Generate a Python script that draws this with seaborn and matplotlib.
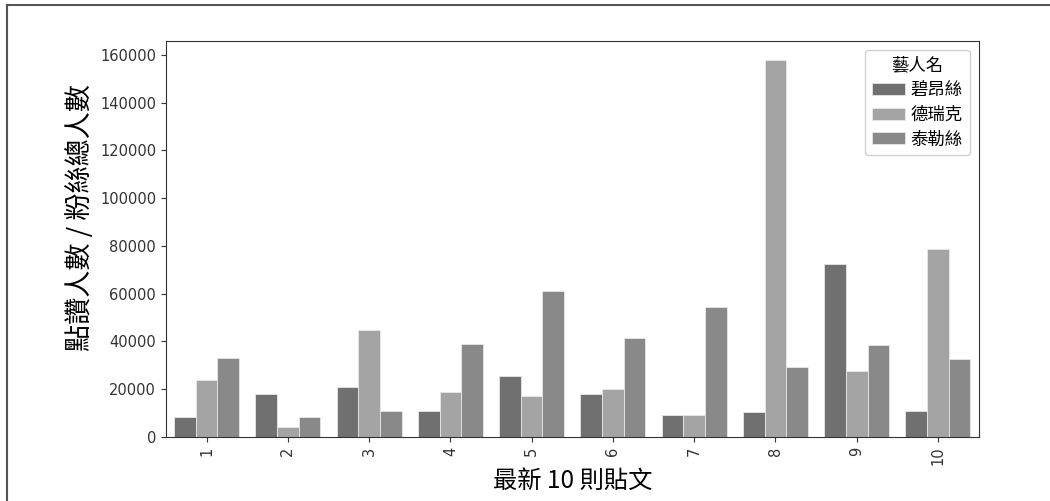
import pandas as pd
import numpy as np
import seaborn as sns
import matplotlib
matplotlib.use("Agg")
import matplotlib.pyplot as plt
from matplotlib.lines import Line2D

# 最新 10 則貼文
posts = [1, 2, 3, 4, 5, 6, 7, 8, 9, 10]
artists = ["碧昂絲", "德瑞克", "泰勒絲"]
beyonce = [8500, 18100, 21000, 10900, 25500, 18000, 9100, 10300, 72500, 11000]
drake = [23900, 4200, 44900, 18800, 17200, 20100, 9100, 157900, 27500, 78700]
taylor = [32900, 8500, 10900, 39000, 61100, 41500, 54300, 29200, 38400, 32800]
colors = ["#707070", "#a4a4a4", "#898989"]

df = pd.DataFrame({
    "貼文": posts * 3,
    "人數": beyonce + drake + taylor,
    "藝人名": [a for a in artists for _ in posts],
})

cjk = ["Noto Sans CJK TC", "DejaVu Sans"]
plt.rcParams["font.family"] = ["DejaVu Sans", "Noto Sans CJK TC"]

fig = plt.figure(figsize=(10.5, 5.01), dpi=100)
ax = fig.add_axes([0.158, 0.128, 0.774, 0.790])
sns.barplot(data=df, x="貼文", y="人數", hue="藝人名", palette=colors,
            saturation=1, ax=ax, width=0.8)
for p in ax.patches:
    p.set_edgecolor("#e8e8e8")
    p.set_linewidth(0.6)

ax.set_xlabel("最新 10 則貼文", fontsize=17.5, family=cjk, labelpad=2)
ax.set_ylabel("點讚人數 / 粉絲總人數", fontsize=19.5, family=cjk)
ax.yaxis.set_label_coords(-0.088, 0.555)
ax.tick_params(axis="x", labelrotation=90, labelsize=10.5, colors="#333333")
ax.tick_params(axis="y", labelsize=10.5, colors="#333333")
for s in ax.spines.values():
    s.set_color("#333333")

leg = ax.legend(title="藝人名", loc="upper right", prop={"family": cjk, "size": 12.5},
                framealpha=0.9, handlelength=1.9, handletextpad=0.35,
                labelspacing=0.38, borderaxespad=0.5, borderpad=0.4)
leg.get_title().set_fontfamily(cjk)
leg.get_title().set_fontsize(12.5)

# 外框
fig.add_artist(Line2D([0.0067, 0.0067], [0, 0.99], transform=fig.transFigure,
                      color="#555555", lw=1.5))
fig.add_artist(Line2D([0.0067, 1.0], [0.99, 0.99], transform=fig.transFigure,
                      color="#555555", lw=1.5))

plt.savefig("out.png", dpi=100)
